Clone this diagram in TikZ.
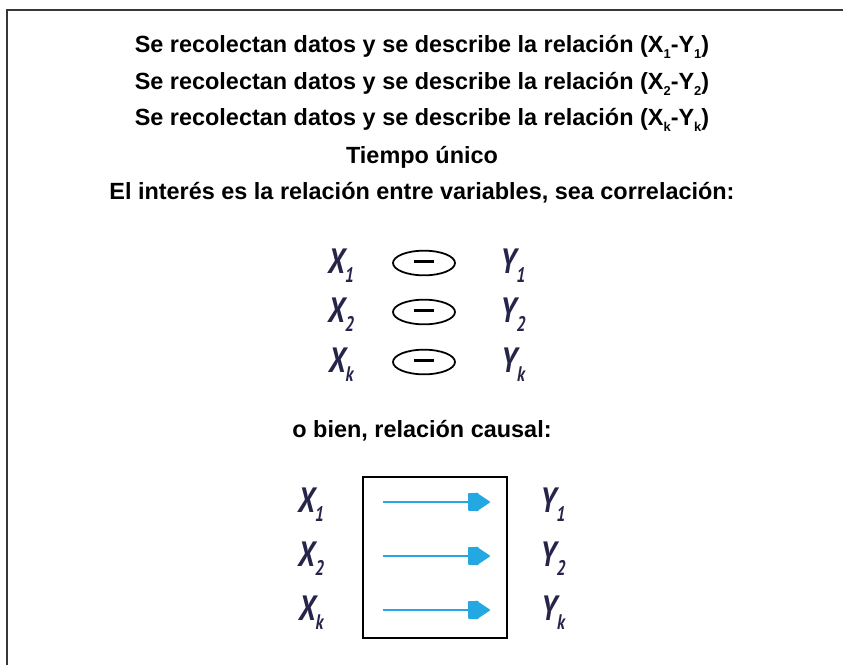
\documentclass[tikz,border=0pt]{standalone}
\usepackage{fontspec}
\setmainfont{Liberation Sans}
\newfontfamily\varfont[FakeStretch=0.8]{PT Sans}
\usepackage{xcolor}
\usetikzlibrary{arrows.meta,positioning,shapes.geometric}
\definecolor{varink}{RGB}{38,36,72}
\definecolor{causeblue}{RGB}{36,168,225}
\definecolor{frameink}{RGB}{55,55,55}
\newcommand{\vx}[2]{#1\raisebox{-0.5ex}{\fontsize{18}{18}\selectfont #2}}
\newcommand{\hs}[1]{\raisebox{-0.45ex}{\fontsize{11}{11}\selectfont #1}}

\begin{document}
\begin{tikzpicture}[x=0.03cm, y=-0.03cm,
  txt/.style={font=\fontsize{20}{23}\selectfont\bfseries, inner sep=0pt},
  var/.style={font=\varfont\bfseries\itshape\fontsize{30}{32}\selectfont, text=varink, inner sep=0pt},
  corr/.style={draw, ellipse, line width=1.5pt, minimum width=1.86cm, minimum height=0.74cm, inner sep=0pt},
  cause/.style={draw=causeblue, line width=1.3pt, -{Rectangle[length=9pt,width=15pt,sep=-3pt,round,fill=causeblue] Triangle[length=13pt,width=17pt,round,fill=causeblue]}}]
\useasboundingbox (0,0) rectangle (843,664);
\clip (0,0) rectangle (843,664);
\draw[frameink, line width=2.2pt] (7,10) rectangle (870,700);

\node[txt] (head1) at (422,47) {Se recolectan datos y se describe la relación (X\hs{1}-Y\hs{1})};
\node[txt] (head2) at (422,84) {Se recolectan datos y se describe la relación (X\hs{2}-Y\hs{2})};
\node[txt] (head3) at (422,120) {Se recolectan datos y se describe la relación (X\hs{k}-Y\hs{k})};
\node[txt] (tiempo) at (422,157) {Tiempo único};
\node[txt] (interes) at (422,193) {El interés es la relación entre variables, sea correlación:};

\node[var] (xa) at (341,266) {\vx{X}{1}};
\node[var] (xb) at (341,315) {\vx{X}{2}};
\node[var] (xk) at (341,365) {\vx{X}{k}};
\node[corr] (ea) at (424,263) {\rule[0.45ex]{0.6cm}{2.2pt}};
\node[corr] (eb) at (424,312) {\rule[0.45ex]{0.6cm}{2.2pt}};
\node[corr] (ek) at (424,362) {\rule[0.45ex]{0.6cm}{2.2pt}};
\node[var] (ya) at (513,266) {\vx{Y}{1}};
\node[var] (yb) at (513,315) {\vx{Y}{2}};
\node[var] (yk) at (513,365) {\vx{Y}{k}};

\node[txt] (causal) at (422,431) {o bien, relación causal:};

\node[draw, line width=1.6pt, minimum width=4.32cm, minimum height=4.83cm] (box) at (435,557.5) {};
\node[var] (cxa) at (311,505) {\vx{X}{1}};
\node[var] (cxb) at (311,559) {\vx{X}{2}};
\node[var] (cxk) at (311,613) {\vx{X}{k}};
\node[var] (cya) at (553,505) {\vx{Y}{1}};
\node[var] (cyb) at (553,559) {\vx{Y}{2}};
\node[var] (cyk) at (553,613) {\vx{Y}{k}};

\coordinate (sa) at (383,502);
\coordinate (ta) at (490,502);
\coordinate (sb) at (383,556);
\coordinate (tb) at (490,556);
\coordinate (sk) at (383,610);
\coordinate (tk) at (490,610);
\draw[cause] (sa) -- (ta);
\draw[cause] (sb) -- (tb);
\draw[cause] (sk) -- (tk);
\end{tikzpicture}
\end{document}
